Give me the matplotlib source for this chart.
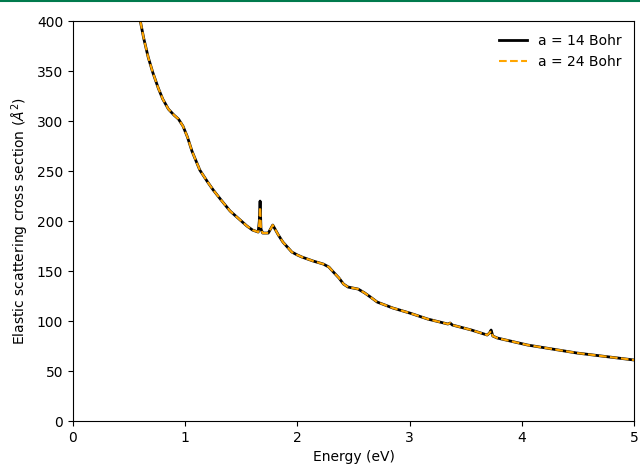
import matplotlib.pyplot as plt
from matplotlib.lines import Line2D

# energy (eV) and cross sections
energy = [0.60, 0.63, 0.67, 0.71, 0.76, 0.80, 0.85, 0.90, 0.94, 0.98, 1.02, 1.06,
          1.13, 1.20, 1.25, 1.32, 1.40, 1.49, 1.55, 1.60, 1.65, 1.66, 1.667, 1.675,
          1.69, 1.74, 1.76, 1.78, 1.80, 1.83, 1.87, 1.91, 1.95, 2.00, 2.04, 2.14,
          2.23, 2.28, 2.32, 2.37, 2.41, 2.45, 2.54, 2.60, 2.65, 2.71, 2.85, 3.00,
          3.16, 3.34, 3.36, 3.38, 3.55, 3.69, 3.71, 3.725, 3.74, 3.78, 4.05, 4.49, 5.00]
sigma_14 = [400, 383, 364, 349, 333, 322, 312, 306, 302, 295, 284, 270,
            251, 239, 231, 221, 210, 201, 195, 191, 189, 200, 220, 192,
            188, 188, 192, 196, 192, 186, 179, 174, 169, 166, 164, 160,
            157, 154, 149, 143, 137, 134, 132, 128, 124, 119, 113, 108,
            102, 97, 98, 96, 91, 86, 88, 91, 85, 83, 76, 68, 61]
sigma_24 = [400, 383, 364, 349, 333, 322, 312, 306, 302, 295, 284, 270,
            251, 239, 231, 221, 210, 201, 195, 191, 189, 198, 214, 192,
            188, 188, 192, 196, 192, 186, 179, 174, 169, 166, 164, 160,
            157, 154, 149, 143, 137, 134, 132, 128, 124, 119, 113, 108,
            102, 97, 98, 96, 91, 86, 88, 90, 85, 83, 76, 68, 61]

fig = plt.figure(figsize=(6.4, 4.65), dpi=100)
ax = fig.add_axes([0.114, 0.0946, 0.877, 0.860])

ax.plot(energy, sigma_14, color='black', linewidth=2, label='a = 14 Bohr')
ax.plot(energy, sigma_24, color='orange', linewidth=1.5, linestyle='--', label='a = 24 Bohr')

ax.set_xlim(0, 5)
ax.set_ylim(0, 400)
ax.set_xlabel('Energy (eV)')
ax.set_ylabel(r'Elastic scattering cross section ($\AA^2$)')
ax.legend(frameon=False, loc='upper right')

# thin green rule along the top edge of the image
fig.add_artist(Line2D([0, 1], [0.997, 0.997], transform=fig.transFigure,
                      color='#007a4d', linewidth=1.5))

fig.savefig('out.png', dpi=100)
